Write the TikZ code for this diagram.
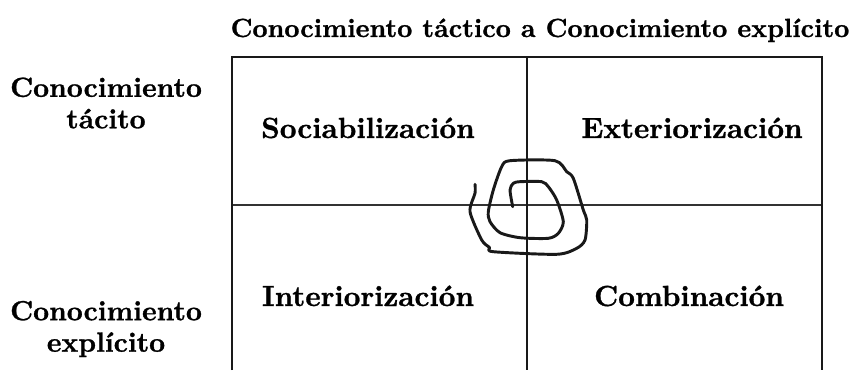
\documentclass[tikz,border=0pt]{standalone}
\usepackage{fontspec}
\usepackage{tikz}

\newfontfamily\heavyfont{lmroman10-bold.otf}[FakeBold=1.0]

\tikzset{
    lbl/.style={font=\fontsize{10.4}{11.8}\selectfont\heavyfont, inner sep=0pt, text=black},
    side/.style={lbl, align=center},
    quad/.style={lbl, font=\fontsize{10.9}{12}\selectfont\heavyfont, anchor=base},
    frame/.style={line width=1.1pt, black!90},
    thin/.style={line width=0.5pt, black!80}
}

\begin{document}
\begin{tikzpicture}[x=0.375pt,y=-0.375pt]
    % Define parameters of grid (pixels)
    \def\Lx{232};
    \def\Rx{822};
    \def\Mx{527};
    \def\Ty{57};
    \def\My{205};
    \def\By{370};

    \useasboundingbox (0,0) rectangle (857,370);

    % Corners of the grid
    \coordinate (bl) at (\Lx,\By);
    \coordinate (tl) at (\Lx,\Ty);
    \coordinate (tr) at (\Rx,\Ty);
    \coordinate (br) at (\Rx,\By);
    \coordinate (tm) at (\Mx,\Ty);
    \coordinate (bm) at (\Mx,\By);
    \coordinate (ml) at (\Lx,\My);
    \coordinate (mr) at (\Rx,\My);

    % Draw grid, open at the bottom
    \draw[thin] (ml) -- (mr);
    \draw[frame] (bl) -- (tl) -- (tr) -- (br);
    \draw[frame] (tm) -- (bm);

    % Draw title
    \node[lbl, font=\fontsize{9.85}{11.8}\selectfont\heavyfont, anchor=base] (title) at (540,37)
        {Conocimiento táctico a Conocimiento explícito};

    % Draw side labels
    \node[side] (tacit) at (106,103) {Conocimiento\\tácito};
    \node[side] (explicit) at (106,329) {Conocimiento\\explícito};

    % Draw quadrants
    \node[quad] (soc) at (368,138) {Sociabilización};
    \node[quad] (ext) at (692,138) {Exteriorización};
    \node[quad] (int) at (368,306) {Interiorización};
    \node[quad] (comb) at (689,306) {Combinación};

    % Draw spiral
    \draw[frame, line join=round, line cap=round] plot[smooth, tension=0.45] coordinates {
        (512.7,206.7) (510,190) (513.3,183.3) (520,181.7) (541.7,181.7)
        (548.3,186.7) (556.7,200) (563.3,221.7) (558.3,233.3) (548.3,238.3)
        (520,237.7) (500,232.7) (490,221.7) (488.3,211.7) (493.3,190)
        (501.7,166.7) (510,160.7) (555,160.7) (566.7,171.7) (573.3,178.3)
        (583.3,210) (586.7,220) (585,240) (576.7,248.3) (556.7,254.3)
        (493.3,251.7) (489.3,247.3) (481.7,240) (470,211.7) (475,193.3)
        (475,184.3)};

\end{tikzpicture}
\end{document}
